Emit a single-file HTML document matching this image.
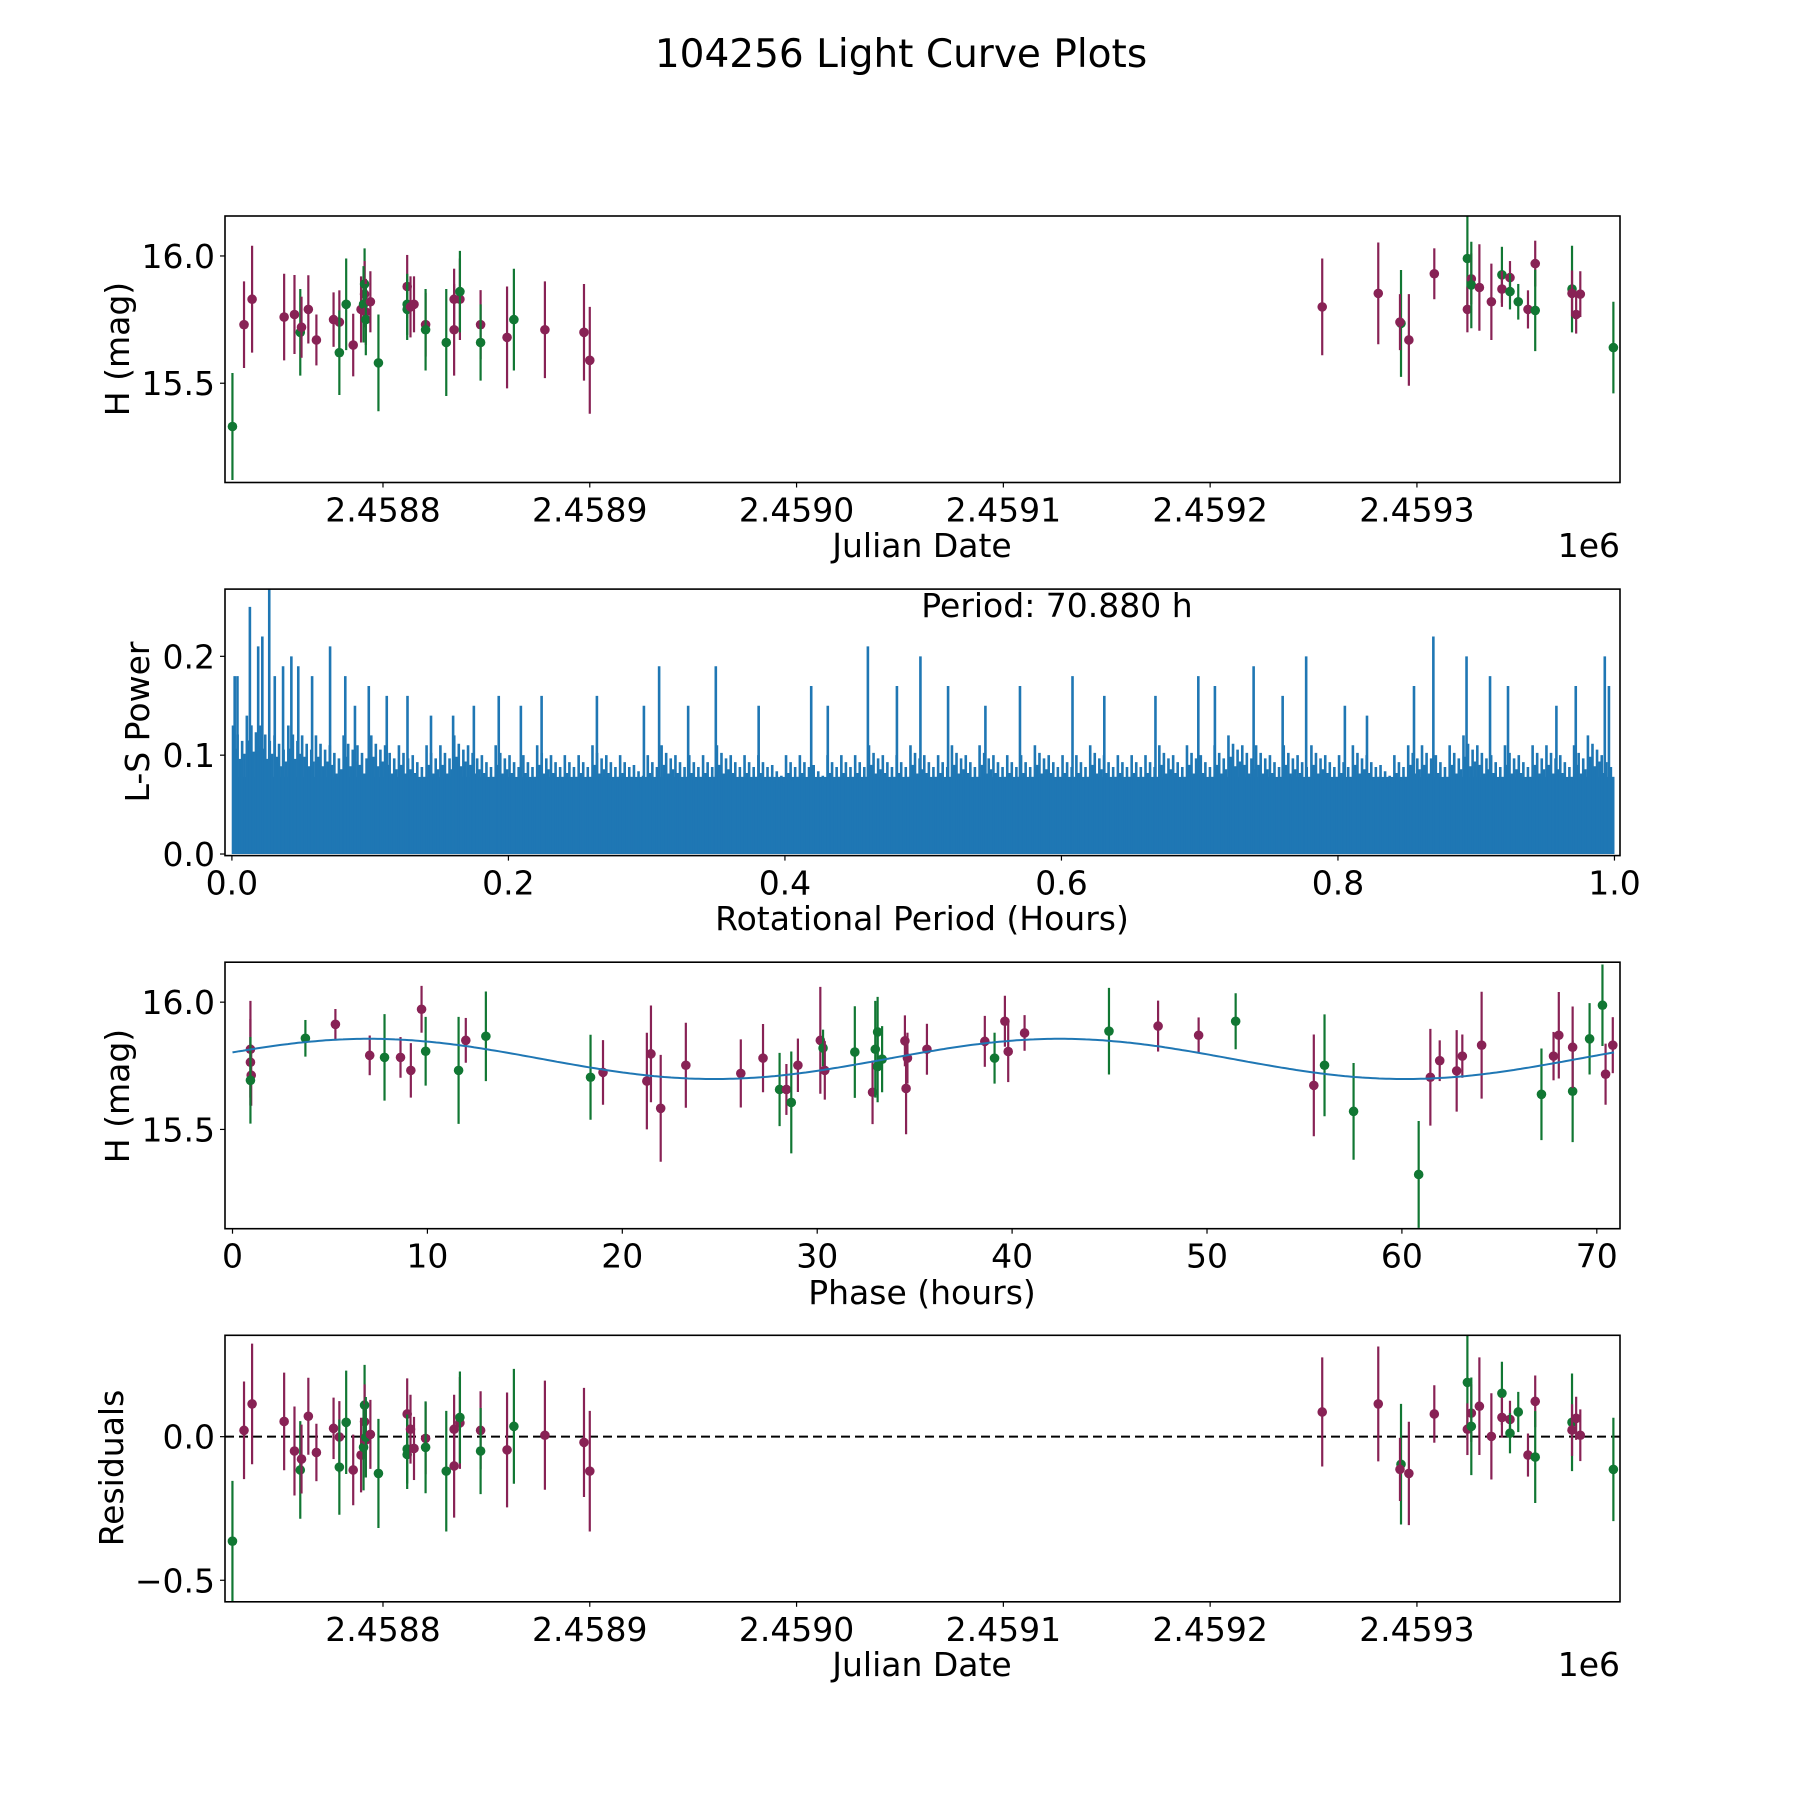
<!DOCTYPE html>
<html><head><meta charset="utf-8"><style>
html,body{margin:0;padding:0;background:#fff;}
svg{display:block;font-family:"DejaVu Sans","Liberation Sans",sans-serif;}
</style></head><body>
<svg id="fig" width="1800" height="1800" viewBox="0 0 1800 1800" xmlns="http://www.w3.org/2000/svg">
<rect x="0" y="0" width="1800" height="1800" fill="#fff"/>
<text x="901" y="67" font-size="39" text-anchor="middle">104256 Light Curve Plots</text>
</svg>
<script>
// ---------- data ----------
const JD_BASE = 2458000;
const jdDays = [727.2,732.8,736.7,752.2,757.2,760,760.6,763.9,767.8,776.1,778.9,778.9,782.2,785.6,789.4,791.1,791.1,790.6,791.7,791.7,793.9,797.8,811.7,811.7,811.7,813.3,815,820.6,820.6,830.6,834.4,834.4,837.2,837.2,847.2,847.2,860,863.3,878.3,897.2,900,
 1254.2,1281.3,1292.3,1291.8,1296.1,1308.4,1324.4,1324.4,1326.3,1326.3,1330.2,1336,1341.1,1341.1,1345,1345,1349,1353.7,1357.2,1357.2,1375,1375,1377,1379,1395];
const magH = [15.33,15.73,15.83,15.76,15.77,15.70,15.72,15.79,15.67,15.75,15.74,15.62,15.81,15.65,15.79,15.89,15.85,15.81,15.78,15.75,15.82,15.58,15.88,15.81,15.79,15.80,15.81,15.73,15.71,15.66,15.71,15.83,15.83,15.86,15.73,15.66,15.68,15.75,15.71,15.70,15.59,
 15.80,15.853,15.735,15.74,15.67,15.93,15.99,15.79,15.91,15.886,15.876,15.82,15.926,15.87,15.915,15.86,15.82,15.79,15.97,15.786,15.87,15.853,15.77,15.85,15.64];
const magErr = [0.21,0.17,0.21,0.17,0.155,0.17,0.12,0.134,0.10,0.107,0.125,0.166,0.18,0.123,0.13,0.14,0.13,0.15,0.13,0.14,0.12,0.19,0.124,0.12,0.12,0.12,0.11,0.125,0.16,0.21,0.18,0.12,0.16,0.16,0.136,0.15,0.2,0.2,0.19,0.19,0.21,
 0.19,0.20,0.21,0.11,0.18,0.10,0.20,0.09,0.10,0.17,0.17,0.15,0.11,0.07,0.065,0.07,0.07,0.075,0.09,0.16,0.17,0.09,0.075,0.09,0.18];
const bands = "GMMMMGMMMMMGGMMGMGMGMGMGGMMMGGMMMGMGMGMMM" + "MMGMMMGMMGMMGMMGGMMGGMMMG";
const residuals = [-0.364,0.022,0.114,0.053,-0.050,-0.116,-0.078,0.071,-0.055,0.029,-0.001,-0.106,0.050,-0.116,-0.064,0.110,0.052,-0.037,-0.012,-0.002,0.008,-0.128,0.079,-0.043,-0.062,0.026,-0.041,-0.006,-0.037,-0.120,-0.102,0.026,0.048,0.067,0.022,-0.050,-0.046,0.036,0.005,-0.020,-0.120,
 0.086,0.114,-0.096,-0.114,-0.128,0.079,0.189,0.026,0.082,0.036,0.106,0.001,0.151,0.067,0.060,0.012,0.086,-0.064,0.123,-0.071,0.050,0.023,0.064,0.005,-0.114];

const phaseH = [0.92,0.92,0.96,0.92,3.74,5.28,7.04,7.8,8.62,9.15,9.7,9.91,11.6,11.97,13.0,18.37,19.01,21.26,21.47,21.97,23.26,26.08,27.22,28.07,28.42,28.67,29.01,30.16,30.3,30.39,31.93,32.84,32.98,33.1,33.1,33.33,34.5,34.63,34.56,
 35.63,38.6,39.1,39.63,39.8,40.64,44.97,47.49,49.57,51.47,55.48,56.03,57.52,60.86,61.46,61.94,62.81,63.1,64.09,67.16,67.78,68.05,68.76,68.76,69.63,70.29,70.45,70.82];
const phaseMag = [15.815,15.764,15.713,15.693,15.858,15.913,15.791,15.783,15.783,15.732,15.972,15.807,15.732,15.85,15.866,15.705,15.724,15.69,15.797,15.583,15.752,15.72,15.78,15.657,15.657,15.606,15.752,15.85,15.82,15.732,15.804,15.646,15.815,15.883,15.747,15.776,15.848,15.78,15.661,
 15.815,15.846,15.78,15.925,15.806,15.879,15.886,15.906,15.87,15.925,15.673,15.752,15.571,15.323,15.705,15.77,15.73,15.788,15.831,15.638,15.788,15.87,15.65,15.823,15.856,15.988,15.717,15.831];
const phaseErr = [0.19,0.17,0.12,0.17,0.072,0.06,0.078,0.17,0.08,0.107,0.092,0.135,0.21,0.088,0.176,0.167,0.127,0.19,0.19,0.21,0.167,0.134,0.134,0.144,0.10,0.2,0.105,0.21,0.072,0.115,0.18,0.125,0.19,0.138,0.14,0.13,0.1,0.1,0.18,
 0.1,0.1,0.1,0.1,0.12,0.07,0.17,0.1,0.07,0.11,0.2,0.2,0.19,0.21,0.19,0.08,0.16,0.085,0.21,0.18,0.095,0.17,0.2,0.16,0.14,0.16,0.12,0.11];
const phaseBands = "MMMGGMMGMMMGGMGGMMMMMMMGMGMMGMGMGGGGMMM" + "MMGMMMGMMGMGGGMMMMMGMMGMGGMM";

const PERIOD_H = 70.880;
const modelMean = 15.777, modelAmp = 0.079, modelPeak = 7.0;

// periodogram (period in hours, L-S power)
const spikePeriod = [0.013,0.027,0.022,0.019,0.004,0.002,0.031,0.037,0.043,0.048,0.058,0.071,0.082,0.089,0.099,0.112,0.127,0.144,0.160,0.175,0.193,0.209,0.224,0.264,0.298,0.309,0.330,0.350,0.381,0.419,0.431,0.460,0.481,0.498,0.518,0.545,0.570,0.608,0.631,0.668,0.699,0.711,0.739,0.760,0.777,0.805,0.821,0.855,0.869,0.893,0.910,0.923,0.958,0.972,0.993,0.996];
const spikePower = [0.25,0.27,0.22,0.21,0.18,0.18,0.18,0.19,0.20,0.19,0.18,0.21,0.18,0.15,0.17,0.16,0.16,0.14,0.14,0.15,0.16,0.15,0.16,0.16,0.15,0.19,0.15,0.19,0.15,0.17,0.15,0.21,0.17,0.20,0.17,0.15,0.17,0.18,0.16,0.16,0.18,0.17,0.19,0.16,0.20,0.15,0.14,0.17,0.22,0.20,0.18,0.17,0.15,0.17,0.20,0.17];
const midLevel = [0.13,0.14,0.13,0.12,0.13,0.12,0.12,0.11,0.12,0.11,0.12,0.11,0.11,0.10,0.11,0.11,0.12,0.11,0.10,0.11,0.10,0.10,0.11,0.10,0.10,0.10,0.11,0.10,0.10,0.09,0.10,0.11,0.10,0.10,0.10,0.11,0.10,0.10,0.10,0.09,0.10,0.10,0.09,0.10,0.10,0.10,0.11,0.10,0.10,0.11,0.10,0.10,0.11,0.10,0.11,0.10,0.10,0.10,0.11,0.10,0.10,0.10,0.11,0.10,0.10,0.10,0.10,0.11,0.10,0.11,0.10,0.11,0.12,0.11,0.11,0.10,0.11,0.10,0.11,0.10,0.10,0.11,0.10,0.09,0.10,0.11,0.11,0.10,0.11,0.12,0.11,0.10,0.11,0.10,0.11,0.11,0.10,0.11,0.12,0.10];
const midShape = [1.0,0.82,0.93,0.74,0.88,0.78];
const baseLevel = 0.078;

const jdTicks = [2458800,2458900,2459000,2459100,2459200,2459300];
const jdTickLabels = ["2.4588","2.4589","2.4590","2.4591","2.4592","2.4593"];
const magTicks = [15.5,16.0];
const magTickLabels = ["15.5","16.0"];
const lsTicks = [0,0.1,0.2];
const lsTickLabels = ["0.0","0.1","0.2"];
const perTicks = [0,0.2,0.4,0.6,0.8,1.0];
const perTickLabels = ["0.0","0.2","0.4","0.6","0.8","1.0"];
const phTicks = [0,10,20,30,40,50,60,70];
const phTickLabels = ["0","10","20","30","40","50","60","70"];
const resTicks = [-0.5,0];
const resTickLabels = ["\u22120.5","0.0"];

// ---------- drawing ----------
const NS = "http://www.w3.org/2000/svg";
const svg = document.getElementById('fig');
const COL = {M:"#882255", G:"#117733"};
const L = 225, R = 1620;
function mk(tag, attrs, parent){ const e=document.createElementNS(NS,tag); for(const k in attrs) e.setAttribute(k,attrs[k]); (parent||svg).appendChild(e); return e; }
function scale(d0,d1,p0,p1){ return v => p0 + (v-d0)/(d1-d0)*(p1-p0); }

function axesFrame(g, top, bot, name){
  const r = mk('rect',{x:L,y:top,width:R-L,height:bot-top,fill:"none",stroke:"#000","stroke-width":1.6},g);
  
  
}
function xTicks(g, sx, bot, ticks, labels, name){
  ticks.forEach((t,i)=>{
    const x = sx(t);
    const ln = mk('line',{x1:x,x2:x,y1:bot,y2:bot+5,stroke:"#000","stroke-width":1.2},g);
    
    
    const tx = mk('text',{x:x,y:bot+39,"font-size":33,"text-anchor":"middle"},g);
    tx.textContent = labels[i];
    
    
  });
}
function yTicks(g, sy, ticks, labels, name){
  ticks.forEach((t,i)=>{
    const y = sy(t);
    const ln = mk('line',{x1:L-5,x2:L,y1:y,y2:y,stroke:"#000","stroke-width":1.2},g);
    
    
    const tx = mk('text',{x:L-10,y:y+12,"font-size":33,"text-anchor":"end"},g);
    tx.textContent = labels[i];
    
    
  });
}
function label(g, text, x, y, rot, name, anchor){
  const t = mk('text',{x:x,y:y,"font-size":33,"text-anchor":anchor||"middle"},g);
  if(rot) t.setAttribute('transform','rotate(-90 '+x+' '+y+')');
  t.textContent = text;
  
  
  return t;
}
function errPoint(g, x, y, yLo, yHi, c, name, clipId){
  const ln = mk('line',{x1:x,x2:x,y1:yLo,y2:yHi,stroke:c,"stroke-width":2.2,"clip-path":"url(#"+clipId+")"},g);
  
  
  const ci = mk('circle',{cx:x,cy:y,r:4.8,fill:c,"clip-path":"url(#"+clipId+")"},g);
  
  
}
function clip(id, top, bot){
  const defs = mk('defs',{});
  const cp = mk('clipPath',{id:id},defs);
  mk('rect',{x:L,y:top,width:R-L,height:bot-top},cp);
}
function model(p){ return modelMean + modelAmp*Math.cos(4*Math.PI*(p-modelPeak)/PERIOD_H); }

const jdMin = 2458723.6, jdMax = 2459398.2;
const magMin = 15.11, magMax = 16.157;

// Panel 1: light curve vs JD
(function(){
  const top=216, bot=482.5;
  const g = mk('g',{});  
  clip('c1',top,bot);
  const sx = scale(jdMin,jdMax,L,R), sy = scale(magMin,magMax,bot,top);
  jdDays.forEach((d,i)=>{
    const jd = JD_BASE + d, c = COL[bands[i]];
    errPoint(g, sx(jd), sy(magH[i]), sy(magH[i]-magErr[i]), sy(magH[i]+magErr[i]), c, 'lightcurve', 'c1');
  });
  axesFrame(g,top,bot,'lightcurve');
  xTicks(g,sx,bot,jdTicks,jdTickLabels,'lightcurve');
  yTicks(g,sy,magTicks,magTickLabels,'lightcurve');
  label(g,'Julian Date',922,557,false,'lightcurve-x-axis-title');
  label(g,'1e6',R,557,false,'lightcurve-x-offset','end');
  label(g,'H (mag)',129,349,true,'lightcurve-y-axis-title');
})();

// Panel 2: periodogram
(function(){
  const top=589.1, bot=855.6;
  const g = mk('g',{});  
  clip('c2',top,bot);
  const sx = scale(-0.005,1.004,L,R), sy = scale(-0.0016,0.268,bot,top);
  const blue = "#1f77b4";
  const base = mk('rect',{x:sx(0.001),y:sy(baseLevel),width:sx(1.0)-sx(0.001),height:sy(0)-sy(baseLevel),fill:blue},g);
  
  
  const binW = 1/midLevel.length;
  midLevel.forEach((v,i)=>{
    midShape.forEach((f,k)=>{
      const p = i*binW + binW*(0.08+0.165*k);
      const ln = mk('line',{x1:sx(p),x2:sx(p),y1:sy(0),y2:sy(v*f),stroke:blue,"stroke-width":2.6,"clip-path":"url(#c2)"},g);
      
      
    });
  });
  spikePeriod.forEach((p,i)=>{
    const ln = mk('line',{x1:sx(p),x2:sx(p),y1:sy(0),y2:sy(spikePower[i]),stroke:blue,"stroke-width":2.6,"clip-path":"url(#c2)"},g);
    
    
  });
  axesFrame(g,top,bot,'periodogram');
  xTicks(g,sx,bot,perTicks,perTickLabels,'periodogram');
  yTicks(g,sy,lsTicks,lsTickLabels,'periodogram');
  label(g,'Period: '+PERIOD_H.toFixed(3)+' h',1057,617,false,'period-annotation');
  label(g,'Rotational Period (Hours)',922,930,false,'periodogram-x-axis-title');
  label(g,'L-S Power',149,722,true,'periodogram-y-axis-title');
})();

// Panel 3: phase-folded
(function(){
  const top=962.2, bot=1228.7;
  const g = mk('g',{});  
  clip('c3',top,bot);
  const sx = scale(-0.385,71.19,L,R), sy = scale(magMin,magMax,bot,top);
  phaseH.forEach((p,i)=>{
    const c = COL[phaseBands[i]];
    errPoint(g, sx(p), sy(phaseMag[i]), sy(phaseMag[i]-phaseErr[i]), sy(phaseMag[i]+phaseErr[i]), c, 'phase', 'c3');
  });
  let d = "";
  for(let k=0;k<=400;k++){ const p = PERIOD_H*k/400; d += (k?"L":"M")+sx(p).toFixed(1)+" "+sy(model(p)).toFixed(1); }
  const path = mk('path',{d:d,fill:"none",stroke:"#1f77b4","stroke-width":2,"clip-path":"url(#c3)"},g);
  
  
  axesFrame(g,top,bot,'phase');
  xTicks(g,sx,bot,phTicks,phTickLabels,'phase');
  yTicks(g,sy,magTicks,magTickLabels,'phase');
  label(g,'Phase (hours)',922,1304,false,'phase-x-axis-title');
  label(g,'H (mag)',129,1096,true,'phase-y-axis-title');
})();

// Panel 4: residuals
(function(){
  const top=1335.3, bot=1601.8;
  const g = mk('g',{});  
  clip('c4',top,bot);
  const sx = scale(jdMin,jdMax,L,R), sy = scale(-0.575,0.353,bot,top);
  const z = mk('line',{x1:L,x2:R,y1:sy(0),y2:sy(0),stroke:"#000","stroke-width":2,"stroke-dasharray":"9,5"},g);
  
  
  jdDays.forEach((d,i)=>{
    const jd = JD_BASE + d, c = COL[bands[i]];
    errPoint(g, sx(jd), sy(residuals[i]), sy(residuals[i]-magErr[i]), sy(residuals[i]+magErr[i]), c, 'residual', 'c4');
  });
  axesFrame(g,top,bot,'residuals');
  xTicks(g,sx,bot,jdTicks,jdTickLabels,'residuals');
  yTicks(g,sy,resTicks,resTickLabels,'residuals');
  label(g,'Julian Date',922,1676,false,'residuals-x-axis-title');
  label(g,'1e6',R,1676,false,'residuals-x-offset','end');
  label(g,'Residuals',123,1468,true,'residuals-y-axis-title');
})();
</script>
</body></html>
